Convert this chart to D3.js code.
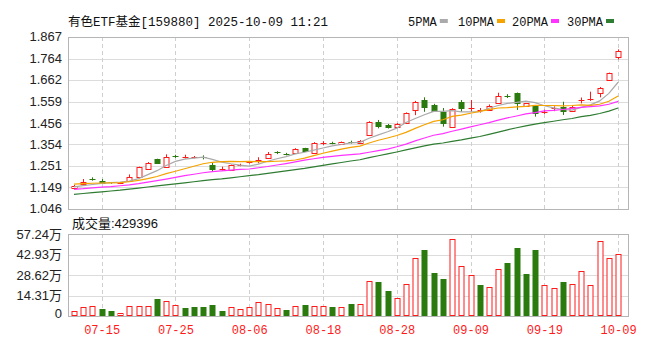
<!DOCTYPE html>
<html><head><meta charset="utf-8">
<script src="https://cdn.jsdelivr.net/npm/d3@7"></script>
<style>body{margin:0;background:#fff}svg{display:block}</style>
</head><body>
<svg id="c" width="660" height="357"></svg>
<script>
const titleText = "有色ETF基金[159880] 2025-10-09 11:21";
const dates = ["07-10","07-11","07-14","07-15","07-16","07-17","07-18","07-21","07-22","07-23","07-24","07-25","07-28","07-29","07-30","07-31",
"08-01","08-04","08-05","08-06","08-07","08-08","08-11","08-12","08-13","08-14","08-15","08-18","08-19","08-20","08-21","08-22","08-25","08-26","08-27","08-28","08-29",
"09-01","09-02","09-03","09-04","09-05","09-08","09-09","09-10","09-11","09-12","09-15","09-16","09-17","09-18","09-19","09-22","09-23","09-24","09-25","09-26","09-29","09-30",
"10-09"];
const xLabels = ["07-15","07-25","08-06","08-18","08-28","09-09","09-19","10-09"];
const priceTicks = [1.046,1.149,1.251,1.354,1.456,1.559,1.662,1.764,1.867];
const volTicks = [0,14.31,28.62,42.93,57.24];
const prevClose0 = 1.150;
const open = [1.148,1.164,1.188,1.181,1.173,1.167,1.181,1.200,1.236,1.283,
1.248,1.300,1.289,1.290,1.293,1.258,1.231,1.231,1.254,1.266,
1.277,1.288,1.316,1.310,1.312,1.336,1.315,1.358,1.362,1.355,
1.366,1.360,1.399,1.463,1.447,1.436,1.455,1.519,1.566,1.542,
1.510,1.439,1.558,1.524,1.517,1.519,1.554,1.586,1.598,1.540,
1.538,1.508,1.525,1.534,1.514,1.564,1.564,1.601,1.662,1.773];
const high = [1.161,1.189,1.197,1.189,1.175,1.174,1.211,1.248,1.270,1.286,
1.307,1.305,1.305,1.299,1.302,1.268,1.248,1.258,1.262,1.276,
1.293,1.318,1.322,1.314,1.336,1.338,1.365,1.370,1.367,1.368,
1.372,1.375,1.465,1.471,1.452,1.456,1.507,1.562,1.579,1.548,
1.528,1.527,1.566,1.566,1.528,1.545,1.601,1.594,1.602,1.552,
1.541,1.520,1.536,1.558,1.538,1.578,1.606,1.628,1.697,1.808];
const low = [1.145,1.162,1.181,1.168,1.166,1.165,1.178,1.198,1.234,1.262,
1.245,1.290,1.287,1.288,1.283,1.225,1.229,1.229,1.250,1.263,
1.264,1.285,1.308,1.302,1.310,1.322,1.312,1.352,1.355,1.352,
1.358,1.357,1.395,1.431,1.430,1.433,1.452,1.494,1.510,1.510,
1.439,1.436,1.510,1.510,1.506,1.517,1.551,1.576,1.519,1.533,
1.487,1.500,1.513,1.495,1.511,1.550,1.562,1.579,1.659,1.760];
const close = [1.158,1.176,1.186,1.172,1.168,1.171,1.200,1.245,1.267,1.264,
1.293,1.298,1.296,1.294,1.290,1.236,1.235,1.255,1.257,1.270,
1.281,1.309,1.314,1.308,1.331,1.324,1.360,1.361,1.360,1.364,
1.363,1.372,1.460,1.442,1.436,1.452,1.503,1.558,1.531,1.515,
1.455,1.522,1.527,1.529,1.520,1.539,1.583,1.580,1.553,1.550,
1.503,1.511,1.528,1.515,1.534,1.567,1.569,1.625,1.694,1.800];
const volume = [3.5,6.3,7.2,5.1,3.3,2.3,6.8,6.8,6.8,11.6,
10.7,7.7,5.8,6.5,6.5,7.4,3.3,6.5,4.9,6.5,
9.8,8.1,5.6,4.4,7.2,7.4,7.2,7.2,6.5,6.5,
8.1,8.1,24.4,23.5,17.7,12.6,22.6,40.7,46.1,30.2,
26.0,53.5,34.9,28.4,21.6,20.5,33.0,36.8,47.7,29.1,
46.1,21.4,19.8,23.5,22.6,31.4,21.4,52.6,40.7,42.9396];
const ma5 = [1.152,1.158,1.163,1.168,1.172,1.175,1.179,1.191,1.210,1.229,
1.254,1.273,1.284,1.289,1.294,1.283,1.270,1.262,1.255,1.251,
1.260,1.274,1.286,1.296,1.309,1.317,1.327,1.337,1.347,1.354,
1.362,1.364,1.384,1.400,1.415,1.432,1.459,1.478,1.496,1.512,
1.512,1.516,1.510,1.510,1.511,1.527,1.540,1.550,1.555,1.561,
1.554,1.539,1.529,1.521,1.518,1.531,1.543,1.562,1.598,1.651];
const ma10 = [1.165,1.167,1.169,1.170,1.171,1.172,1.176,1.183,1.191,1.201,
1.215,1.226,1.238,1.250,1.262,1.269,1.272,1.273,1.272,1.273,
1.272,1.272,1.274,1.276,1.280,1.289,1.301,1.312,1.322,1.332,
1.340,1.346,1.361,1.374,1.385,1.397,1.412,1.431,1.448,1.464,
1.472,1.488,1.494,1.503,1.512,1.520,1.528,1.530,1.533,1.536,
1.541,1.540,1.540,1.538,1.540,1.543,1.541,1.546,1.560,1.585];
const ma20 = [1.140,1.143,1.147,1.150,1.153,1.157,1.161,1.167,1.174,1.181,
1.189,1.197,1.205,1.212,1.219,1.224,1.228,1.232,1.235,1.237,
1.243,1.249,1.256,1.263,1.271,1.279,1.286,1.292,1.297,1.302,
1.306,1.309,1.317,1.325,1.332,1.343,1.356,1.371,1.385,1.398,
1.406,1.417,1.427,1.438,1.448,1.458,1.470,1.481,1.490,1.500,
1.506,1.514,1.517,1.521,1.526,1.531,1.535,1.538,1.546,1.560];
const ma30 = [1.116,1.120,1.124,1.128,1.132,1.136,1.141,1.146,1.151,1.156,
1.161,1.166,1.171,1.176,1.181,1.186,1.190,1.195,1.200,1.205,
1.210,1.216,1.222,1.228,1.234,1.240,1.247,1.254,1.261,1.268,
1.275,1.281,1.291,1.300,1.309,1.318,1.328,1.338,1.347,1.356,
1.361,1.369,1.376,1.384,1.392,1.402,1.413,1.424,1.434,1.443,
1.451,1.458,1.465,1.472,1.478,1.487,1.493,1.502,1.513,1.528];
const maNames = ["5PMA","10PMA","20PMA","30PMA"];
const maColors = ["#aaaaaa","#f5a300","#ff33ff","#2f7d32"];

const RED = "#ff1a1a", GREEN = "#2a7a0e";
const svg = d3.select("#c");
const L = 68, R = 628, PT = 37, PB = 209, VT = 234, VB = 316;
const x = d3.scalePoint().domain(dates).range([74, 618.1]);
const yP = d3.scaleLinear().domain([priceTicks[0], priceTicks[priceTicks.length-1]]).range([PB, PT]);
const yV = d3.scaleLinear().domain([0, volTicks[volTicks.length-1]]).range([VB, VT]);
const px = v => Math.round(v) + 0.5;

// title & legend
svg.append("text").attr("x", 68).attr("y", 25.5).attr("font-family", "'Liberation Mono','Noto Sans CJK SC',monospace")
  .attr("font-size", 12.5).attr("fill", "#111").text(titleText);
const leg = svg.append("g").attr("font-family", "'Liberation Mono',monospace").attr("font-size", 12).attr("fill", "#111");
const legX = [408, 458, 512, 567];
maNames.forEach((n, k) => {
  const t = leg.append("text").attr("x", legX[k]).attr("y", 25.5).attr("textLength", n.length*7.2).text(n);
  leg.append("rect").attr("x", legX[k] + n.length*7.2 + 3).attr("y", 19).attr("width", 8).attr("height", 4).attr("fill", maColors[k]);
});

// grids
function grid(g, yScale, ticks, top, bottom) {
  g.selectAll("line.h").data(ticks).join("line").attr("class", "h")
    .attr("x1", L).attr("x2", R).attr("y1", d => px(yScale(d))).attr("y2", d => px(yScale(d)))
    .attr("stroke", "#dcdcdc").attr("stroke-width", 1);
  g.selectAll("line.v").data(xLabels).join("line").attr("class", "v")
    .attr("x1", d => px(x(d))).attr("x2", d => px(x(d))).attr("y1", top).attr("y2", bottom)
    .attr("stroke", "#cfcfcf").attr("stroke-dasharray", "4,3");
  g.append("rect").attr("x", L + 0.5).attr("y", top + 0.5).attr("width", R - L).attr("height", bottom - top)
    .attr("fill", "none").attr("stroke", "#b5b5b5").attr("stroke-width", 1);
}
grid(svg.append("g"), yP, priceTicks, PT, PB);
grid(svg.append("g"), yV, volTicks, VT, VB);

// y axes
const axP = svg.append("g").attr("transform", `translate(${L - 3},0)`)
  .call(d3.axisLeft(yP).tickValues(priceTicks).tickFormat(d3.format(".3f")).tickSize(0));
const axV = svg.append("g").attr("transform", `translate(${L - 3},0)`)
  .call(d3.axisLeft(yV).tickValues(volTicks).tickFormat(d => d === 0 ? "0" : d3.format(".2f")(d) + "万").tickSize(0));
[axP, axV].forEach(a => {
  a.select(".domain").remove();
  a.selectAll("text").attr("font-family", "'Liberation Sans','Noto Sans CJK SC',Arial,sans-serif")
    .attr("font-size", 13).attr("fill", "#222").attr("dy", "0.3em");
});
axV.selectAll("text").attr("dy", d => d === 0 ? "0.15em" : "0.32em");

// x axis
const axX = svg.append("g").attr("transform", `translate(0,${VB + 4})`)
  .call(d3.axisBottom(x).tickValues(xLabels).tickSize(0));
axX.select(".domain").remove();
axX.selectAll("text").attr("font-family", "'Liberation Mono',monospace").attr("font-size", 12)
  .attr("fill", RED).attr("dy", "0.9em");

// candles
const idx = d3.range(dates.length);
const candleUp = i => close[i] > open[i] || (close[i] === open[i] && close[i] >= (i ? close[i-1] : prevClose0));
const volUp = i => close[i] >= (i ? close[i-1] : prevClose0);
const cg = svg.append("g");
idx.forEach(i => {
  const cx = px(x(dates[i]));
  const col = candleUp(i) ? RED : GREEN;
  cg.append("line").attr("x1", cx).attr("x2", cx).attr("y1", yP(high[i])).attr("y2", yP(low[i]))
    .attr("stroke", col).attr("stroke-width", 1);
  const yt = Math.round(yP(Math.max(open[i], close[i])));
  const yb = Math.round(yP(Math.min(open[i], close[i])));
  const h = Math.max(1, yb - yt);
  if (candleUp(i)) {
    if (h <= 1) cg.append("line").attr("x1", cx - 3).attr("x2", cx + 3).attr("y1", yt + 0.5).attr("y2", yt + 0.5).attr("stroke", col);
    else cg.append("rect").attr("x", cx - 2.5).attr("y", yt + 0.5).attr("width", 5).attr("height", h)
      .attr("fill", "#fff").attr("stroke", col).attr("stroke-width", 1);
  } else {
    if (h <= 1) cg.append("line").attr("x1", cx - 3).attr("x2", cx + 3).attr("y1", yt + 0.5).attr("y2", yt + 0.5).attr("stroke", col);
    else cg.append("rect").attr("x", cx - 3).attr("y", yt).attr("width", 6).attr("height", h + 1).attr("fill", col);
  }
});

// moving averages
[ma5, ma10, ma20, ma30].forEach((arr, k) => {
  svg.append("path").datum(arr)
    .attr("d", d3.line().x((d, i) => x(dates[i])).y(d => yP(d)))
    .attr("fill", "none").attr("stroke", maColors[k]).attr("stroke-width", 1.2);
});

// volume
svg.append("text").attr("x", 72).attr("y", 227.5).attr("font-family", "'Liberation Sans','Noto Sans CJK SC',sans-serif")
  .attr("font-size", 13).attr("fill", "#111").text("成交量:" + Math.round(volume[volume.length-1] * 10000));
const vg = svg.append("g");
idx.forEach(i => {
  const cx = px(x(dates[i]));
  const yt = Math.round(yV(volume[i]));
  if (volUp(i)) vg.append("rect").attr("x", cx - 2.5).attr("y", yt + 0.5).attr("width", 5).attr("height", VB - yt - 1)
      .attr("fill", "#fff").attr("stroke", RED).attr("stroke-width", 1);
  else vg.append("rect").attr("x", cx - 3).attr("y", yt).attr("width", 6).attr("height", VB - yt).attr("fill", GREEN);
});
</script>
</body></html>
